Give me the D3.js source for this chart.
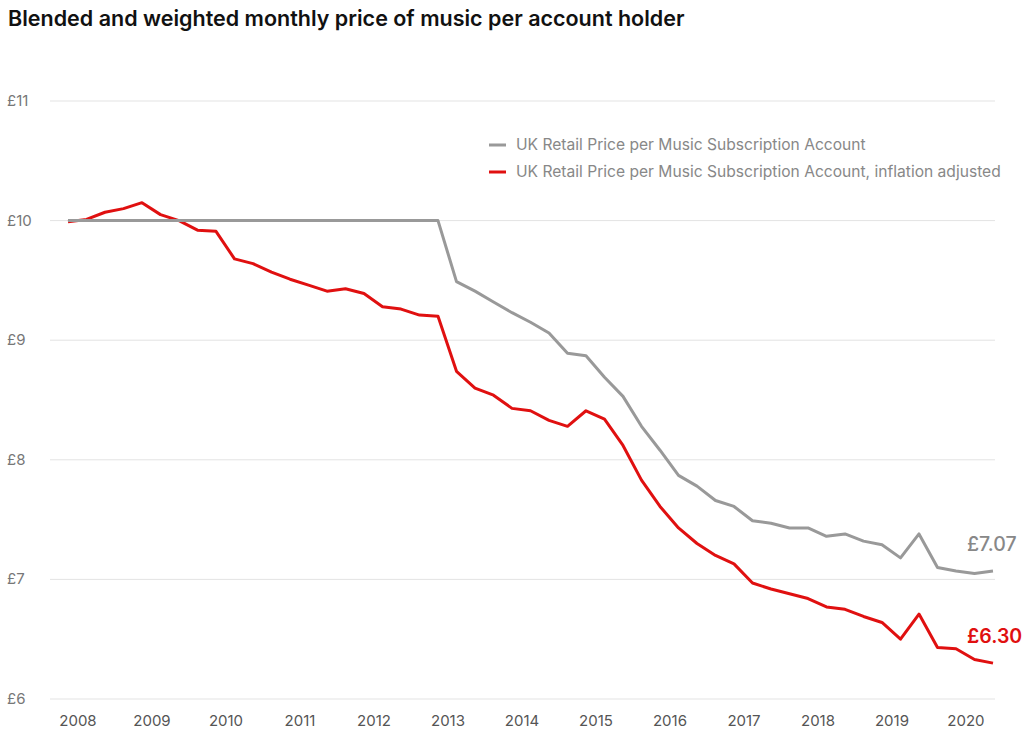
<!DOCTYPE html>
<html>
<head>
<meta charset="utf-8">
<script src="https://cdn.jsdelivr.net/npm/d3@7"></script>
<style>
  body { margin: 0; background: #fff; font-family: Inter, "Noto Sans", sans-serif; }
</style>
</head>
<body>
<div id="chart"></div>
<script>
// quarterly values, starting Q1 2008
const nominal = [10,10,10,10,10,10,10,10,10,10,10,10,10,10,10,10,10,10,10,10,10,
  9.49,9.41,9.32,9.23,9.15,9.06,8.89,8.87,8.69,8.53,8.28,8.08,7.87,7.78,7.66,7.61,
  7.49,7.47,7.43,7.43,7.36,7.38,7.32,7.29,7.18,7.38,7.10,7.07,7.05,7.07];
const adjusted = [9.99,10.01,10.07,10.10,10.15,10.05,10.00,9.92,9.91,9.68,9.64,9.57,
  9.51,9.46,9.41,9.43,9.39,9.28,9.26,9.21,9.20,8.74,8.60,8.54,8.43,8.41,8.33,8.28,
  8.41,8.34,8.12,7.83,7.61,7.43,7.30,7.20,7.13,6.97,6.92,6.88,6.84,6.77,6.75,6.69,
  6.64,6.50,6.71,6.43,6.42,6.33,6.30];
const years = [2008,2009,2010,2011,2012,2013,2014,2015,2016,2017,2018,2019,2020];
const yTicks = [6,7,8,9,10,11];
const seriesNames = ["UK Retail Price per Music Subscription Account",
  "UK Retail Price per Music Subscription Account, inflation adjusted"];

const W = 1024, H = 736;
const svg = d3.select("#chart").append("svg").attr("width", W).attr("height", H);

const x = d3.scaleLinear().domain([0, nominal.length - 1]).range([68, 993]);
const y = d3.scaleLinear().domain([6, 11]).range([699, 101]);

svg.append("text")
  .attr("x", 8).attr("y", 26)
  .style("font-size", "21.5px").style("font-weight", 600).attr("fill", "#111")
  .text("Blended and weighted monthly price of music per account holder");

// grid + y labels
svg.selectAll(".grid").data(yTicks).join("line")
  .attr("x1", 50).attr("x2", 995)
  .attr("y1", d => y(d)).attr("y2", d => y(d))
  .attr("stroke", "#e3e3e3").attr("stroke-width", 1);

svg.selectAll(".ylab").data(yTicks).join("text")
  .attr("x", 7).attr("y", d => y(d) + 5)
  .attr("fill", "#777").style("font-size", "15px")
  .text(d => "£" + d);

// year labels (year tick sits about half a quarter in from Q1)
svg.selectAll(".xlab").data(years).join("text")
  .attr("x", (d, i) => x(0.54 + 4 * i)).attr("y", 726)
  .attr("text-anchor", "middle")
  .attr("fill", "#555").style("font-size", "15px")
  .text(d => d);

const line = d3.line().x((d, i) => x(i)).y(d => y(d));

svg.append("path").datum(adjusted).attr("d", line)
  .attr("fill", "none").attr("stroke", "#e01010").attr("stroke-width", 3)
  .attr("stroke-linejoin", "round");
svg.append("path").datum(nominal).attr("d", line)
  .attr("fill", "none").attr("stroke", "#999").attr("stroke-width", 3)
  .attr("stroke-linejoin", "round");

// end labels
const last = nominal.length - 1;
svg.append("text").attr("x", 967).attr("y", y(nominal[last]) - 20)
  .attr("fill", "#888")
  .style("font-size", "19.5px").style("font-weight", 500)
  .text("£" + nominal[last].toFixed(2));
svg.append("text").attr("x", 967).attr("y", y(adjusted[last]) - 20)
  .attr("fill", "#e01010")
  .style("font-size", "19.5px").style("font-weight", 600)
  .text("£" + adjusted[last].toFixed(2));

// legend
const legend = svg.append("g").attr("transform", "translate(489,145)");
const colors = ["#999", "#e01010"];
seriesNames.forEach((name, i) => {
  const g = legend.append("g").attr("transform", `translate(0, ${i * 27})`);
  g.append("line").attr("x1", 0).attr("x2", 17).attr("stroke", colors[i]).attr("stroke-width", 3);
  g.append("text").attr("x", 27).attr("y", 5)
    .attr("fill", "#888").style("font-size", "15.6px").text(name);
});
</script>
</body>
</html>
